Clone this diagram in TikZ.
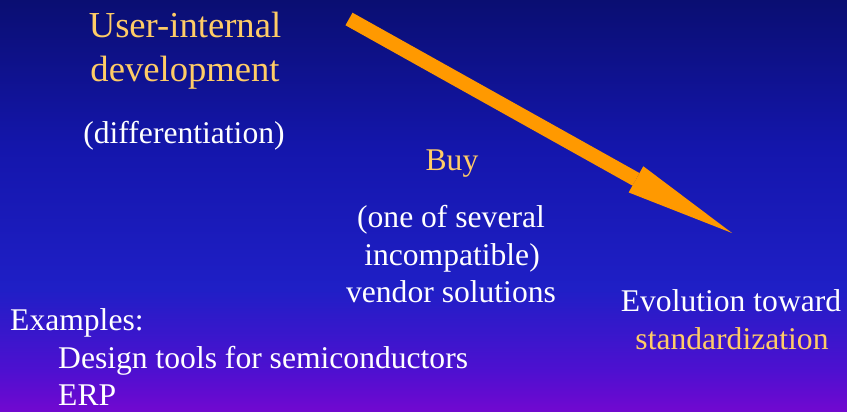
\documentclass[tikz,border=0pt]{standalone}
\usepackage{fontspec}
\setmainfont{Liberation Serif}
\usetikzlibrary{arrows.meta}
\definecolor{gold}{HTML}{FFCC66}
\definecolor{arroworange}{HTML}{FF9900}
\definecolor{bgA}{HTML}{0A0E72}
\definecolor{bgB}{HTML}{1416AC}
\definecolor{bgC}{HTML}{1F1FC6}
\definecolor{bgD}{HTML}{4E10D0}
\definecolor{bgE}{HTML}{7208D0}
\pgfdeclareverticalshading{bgshade}{100bp}{color(0bp)=(bgE); color(25bp)=(bgE); color(30bp)=(bgD); color(40bp)=(bgC); color(57bp)=(bgB); color(75bp)=(bgA); color(100bp)=(bgA)}
\tikzset{
  txt/.style={inner sep=0pt, anchor=base, text=white, font=\fontsize{31.6}{38}\selectfont},
  txtleft/.style={txt, anchor=base west},
  goldtxt/.style={txt, text=gold},
  titletxt/.style={txt, text=gold, font=\fontsize{36.6}{44}\selectfont},
  bigarrow/.style={draw=arroworange, line width=14.4pt, line cap=butt,
    -{Triangle[length=110pt,width=30pt,line width=0pt]}}
}
\begin{document}
\begin{tikzpicture}[x=1pt,y=-1pt]
\shade[shading=bgshade] (0,0) rectangle (847,412);
\useasboundingbox (0,0) rectangle (847,412);
% title
\node[titletxt] (t1) at (185,38) {User-internal};
\node[titletxt] (t2) at (185,82) {development};
\node[txt] (t3) at (184,143) {(differentiation)};
% buy
\node[goldtxt] (b1) at (452,170) {Buy};
\node[txt] (b2) at (451,227) {(one of several};
\node[txt] (b3) at (452,265) {incompatible)};
\node[txt] (b4) at (451,302) {vendor solutions};
% examples
\node[txtleft] (e1) at (10,330) {Examples:};
\node[txtleft] (e2) at (58,368) {Design tools for semiconductors};
\node[txtleft] (e3) at (58,405) {ERP};
% evolution
\node[txt] (v1) at (731,311) {Evolution toward};
\node[goldtxt] (v2) at (732,349) {standardization};
% arrow
\coordinate (tail) at (349,19);
\coordinate (tip) at (732,233);
\draw[bigarrow] (tail) -- (tip);
\end{tikzpicture}
\end{document}
